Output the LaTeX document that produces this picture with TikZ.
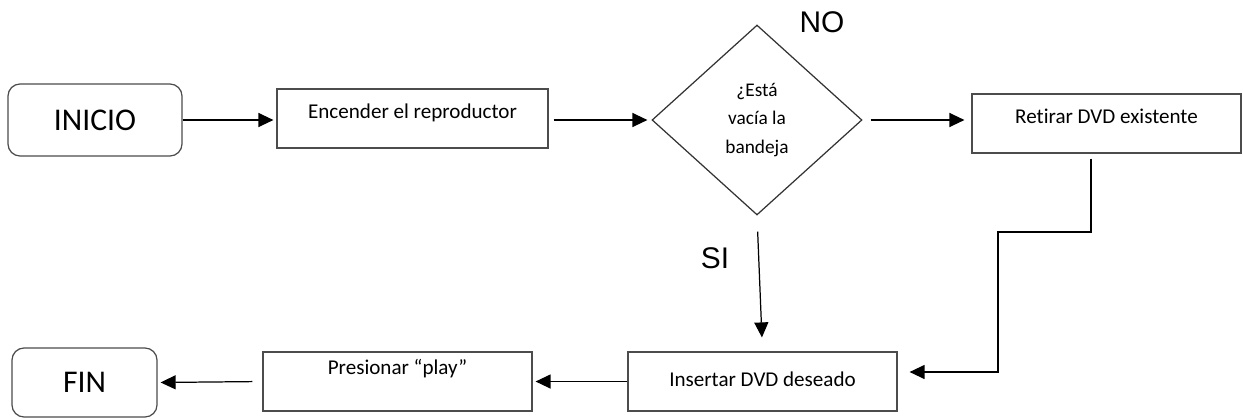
\documentclass[tikz,border=0pt]{standalone}
\usepackage{fontspec}
\setmainfont{Carlito}[Ligatures=NoCommon]
\newfontfamily\arialfont{Liberation Sans}
\usetikzlibrary{shapes.geometric, arrows.meta}

\begin{document}
\begin{tikzpicture}[x=0.02cm, y=-0.02cm,
    box/.style={draw=black!70, line width=0.7pt, rectangle, inner sep=0pt,
        minimum width=5.38cm, minimum height=1.18cm, font=\fontsize{12}{14}\selectfont},
    term/.style={draw=black!70, line width=0.7pt, rounded corners=0.24cm, inner sep=0pt,
        font=\fontsize{18}{20}\selectfont},
    decis/.style={draw=black!80, line width=0.7pt, diamond, inner sep=0pt,
        minimum width=4.2cm, minimum height=3.8cm, align=center,
        font=\fontsize{11}{16}\selectfont},
    answer/.style={font=\arialfont\fontsize{17}{20}\selectfont},
    arr/.style={-{Triangle[length=0.3cm, width=0.28cm]}, line width=0.7pt}]
    \useasboundingbox (0,0) rectangle (1243,419);
    % first row
    \node[term, minimum width=3.48cm, minimum height=1.44cm] (ini) at (95,120) {INICIO};
    \node[box, minimum width=5.42cm, text height=9pt, text depth=9pt] (enc) at (412.5,118.5) {Encender el reproductor};
    \node[decis] (dia) at (757,120) {¿Está\\vacía la\\bandeja};
    \node[box, text height=9pt, text depth=9pt] (ret) at (1106.5,123.5) {Retirar DVD existente};
    % second row
    \node[box, text height=9pt, text depth=3pt] (ins) at (762.5,381.5) {Insertar DVD deseado};
    \node[box, text height=9pt, text depth=17pt] (pre) at (397.5,381.5) {Presionar “play”};
    \node[term, minimum width=2.9cm, minimum height=1.38cm] (fin) at (84.5,382.5) {FIN};
    % answers
    \node[answer] (no) at (822,22) {NO};
    \node[answer] (si) at (715,258) {SI};
    \coordinate (c1) at (1091,232);
    \coordinate (c2) at (998,372);
    % connectors
    \draw[arr, shorten >=0.06cm] (ini.east) -- (ini.east -| enc.west);
    \draw[arr, shorten <=0.1cm, shorten >=0.08cm] (enc.east |- dia) -- (dia.west);
    \draw[arr, shorten <=0.16cm, shorten >=0.14cm] (dia.east) -- (dia.east -| ret.west);
    \draw[arr, shorten <=0.32cm, shorten >=0.28cm] (dia.south) -- (ins.north);
    \draw[arr, shorten <=0.1cm, shorten >=0.24cm] (ret.south -| c1) -- (c1) -| (c2) -- (c2 -| ins.east);
    \draw[arr, shorten >=0.06cm] (ins.west) -- (pre.east);
    \draw[arr, shorten <=0.2cm, shorten >=0.06cm] (pre.west) -- (fin.east);
\end{tikzpicture}
\end{document}
